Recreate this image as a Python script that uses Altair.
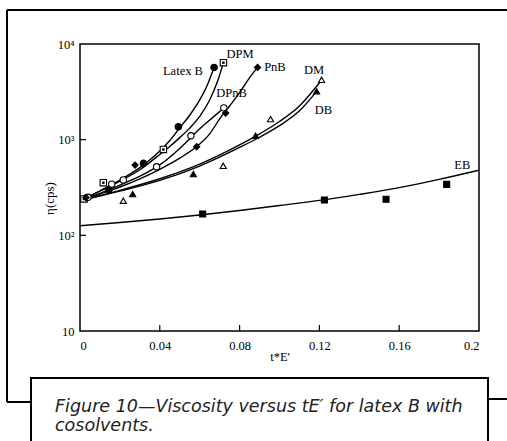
import altair as alt
import pandas as pd

# ---------------- data ----------------
x_ticks = [0, 0.04, 0.08, 0.12, 0.16, 0.2]
y_ticks = [10, 100, 1000, 10000]
inner_x_ticks = [0.04, 0.08, 0.12, 0.16]
inner_y_ticks = [100, 1000]

# fitted curves (t*E', eta in cps)
latexb_curve_x = [0, 0.01, 0.02, 0.03, 0.04, 0.045, 0.05, 0.055, 0.06, 0.064, 0.0672]
latexb_curve_eta = [230, 292, 378, 510, 760, 980, 1330, 1800, 2600, 3800, 5700]

dpm_curve_x = [0, 0.01, 0.02, 0.03, 0.04, 0.045, 0.05, 0.055, 0.06, 0.065, 0.069, 0.0719]
dpm_curve_eta = [230, 290, 368, 485, 700, 850, 1050, 1320, 1750, 2600, 4100, 6400]

dpnb_curve_x = [0, 0.01, 0.02, 0.03, 0.04, 0.05, 0.06, 0.066, 0.0722]
dpnb_curve_eta = [230, 275, 335, 415, 545, 810, 1300, 1670, 2150]

pnb_curve_x = [0, 0.01, 0.02, 0.03, 0.04, 0.05, 0.06, 0.065, 0.07, 0.075, 0.08, 0.0845, 0.089]
pnb_curve_eta = [230, 270, 320, 390, 490, 640, 900, 1150, 1650, 2250, 3100, 4300, 5700]

dm_curve_x = [0, 0.02, 0.04, 0.06, 0.08, 0.09, 0.1, 0.11, 0.1211]
dm_curve_eta = [230, 295, 390, 555, 880, 1150, 1550, 2250, 4200]

db_curve_x = [0, 0.02, 0.04, 0.06, 0.08, 0.09, 0.1, 0.11, 0.1186]
db_curve_eta = [230, 290, 375, 530, 830, 1060, 1400, 2000, 3200]

eb_curve_x = [0, 0.02, 0.04, 0.06, 0.08, 0.1, 0.12, 0.14, 0.16, 0.18, 0.2]
eb_curve_eta = [126, 136, 148, 163, 182, 205, 232, 268, 315, 385, 480]

# measured points
latexb_pts_x = [0.003, 0.0145, 0.0318, 0.0493, 0.0672]
latexb_pts_eta = [245, 300, 566, 1365, 5690]
dpm_pts_x = [0.002, 0.0117, 0.0418, 0.0719]
dpm_pts_eta = [240, 355, 790, 6380]
dpnb_pts_x = [0.004, 0.0159, 0.0217, 0.0384, 0.0556, 0.0721]
dpnb_pts_eta = [250, 343, 379, 521, 1099, 2150]
pnb_pts_x = [0.003, 0.0276, 0.0585, 0.073, 0.089]
pnb_pts_eta = [248, 543, 843, 1897, 5690]
dm_pts_x = [0.0217, 0.0718, 0.0955, 0.1211]
dm_pts_eta = [230, 533, 1641, 4227]
db_pts_x = [0.0264, 0.0568, 0.088, 0.1186]
db_pts_eta = [270, 437, 1099, 3200]
eb_pts_x = [0.0615, 0.1225, 0.1534, 0.1838]
eb_pts_eta = [167, 234, 238, 341]

series_names = ["Latex B", "DPM", "DPnB", "PnB", "DM", "DB", "EB"]
label_x = [0.0516, 0.0802, 0.076, 0.0977, 0.1173, 0.122, 0.1916]
label_eta = [5225, 7850, 3055, 5740, 5350, 2040, 543]

caption_lines = ["Figure 10\u2014Viscosity versus tE\u2032 for latex B with", "cosolvents."]

# ---------------- tables ----------------
curve_sets = [
    (latexb_curve_x, latexb_curve_eta), (dpm_curve_x, dpm_curve_eta),
    (dpnb_curve_x, dpnb_curve_eta), (pnb_curve_x, pnb_curve_eta),
    (dm_curve_x, dm_curve_eta), (db_curve_x, db_curve_eta),
    (eb_curve_x, eb_curve_eta),
]
point_sets = [
    (latexb_pts_x, latexb_pts_eta), (dpm_pts_x, dpm_pts_eta),
    (dpnb_pts_x, dpnb_pts_eta), (pnb_pts_x, pnb_pts_eta),
    (dm_pts_x, dm_pts_eta), (db_pts_x, db_pts_eta),
    (eb_pts_x, eb_pts_eta),
]
curves = pd.DataFrame([
    {"series": s, "x": x, "eta": e}
    for s, (xs, es) in zip(series_names, curve_sets) for x, e in zip(xs, es)
])
points = pd.DataFrame([
    {"series": s, "x": x, "eta": e}
    for s, (xs, es) in zip(series_names, point_sets) for x, e in zip(xs, es)
])
labels = pd.DataFrame({"name": series_names, "x": label_x, "eta": label_eta})

W, H = 399, 287
serif = "Liberation Serif"

xscale = alt.Scale(domain=[0, 0.2], nice=False, zero=False)
yscale = alt.Scale(type="log", domain=[10, 10000], nice=False)

X = alt.X("x:Q", scale=xscale, axis=alt.Axis(
    values=x_ticks, labelExpr="datum.value == 0 ? '0' : format(datum.value, '.2~f')",
    tickSize=0, grid=False, domain=False, labelFont=serif, labelFontSize=12.5,
    labelColor="black", labelPadding=8, title="t*E'", titleFont=serif,
    titleFontSize=12.5, titleFontWeight="normal", titleColor="black",
    titleY=25, titleBaseline="middle"))
Y = alt.Y("eta:Q", scale=yscale, axis=alt.Axis(
    values=y_ticks,
    labelExpr="datum.value == 10 ? '10' : datum.value == 100 ? '10\u00b2' : datum.value == 1000 ? '10\u00b3' : '10\u2074'",
    tickSize=0, grid=False, domain=False, labelFont=serif, labelFontSize=12.5,
    labelColor="black", labelPadding=6, title="\u03b7(cps)", titleFont=serif,
    titleFontSize=13, titleFontWeight="normal", titleColor="black",
    titleX=-31, titleY=154, titleAngle=270, titleAlign="center",
    titleBaseline="middle"))

lines = alt.Chart(curves).mark_line(
    color="black", strokeWidth=1.4, interpolate="monotone", clip=True
).encode(x=X, y=Y, detail="series:N", order="x:Q")

pts = alt.Chart(points).mark_point(filled=True, stroke="black", strokeWidth=1.1, opacity=1).encode(
    x=alt.X("x:Q", scale=xscale),
    y=alt.Y("eta:Q", scale=yscale),
    shape=alt.Shape("series:N", legend=None, scale=alt.Scale(
        domain=series_names,
        range=["circle", "square", "circle", "diamond", "triangle-up", "triangle-up", "square"])),
    fill=alt.Fill("series:N", legend=None, scale=alt.Scale(
        domain=series_names,
        range=["black", "white", "white", "black", "white", "black", "black"])),
    size=alt.Size("series:N", legend=None, scale=alt.Scale(
        domain=series_names, range=[42, 36, 38, 42, 34, 34, 30])),
)
dpm_dots = alt.Chart(points).transform_filter(alt.datum.series == "DPM").mark_point(
    shape="square", filled=True, color="black", size=6, opacity=1
).encode(x=alt.X("x:Q", scale=xscale), y=alt.Y("eta:Q", scale=yscale))

name_text = alt.Chart(labels).mark_text(
    font=serif, fontSize=12.5, color="black", align="center", baseline="middle"
).encode(x=alt.X("x:Q", scale=xscale), y=alt.Y("eta:Q", scale=yscale), text="name:N")

tx = pd.DataFrame({"x": inner_x_ticks})
x_tick_rules = alt.Chart(tx).mark_rule(color="black", strokeWidth=1.2).encode(
    x=alt.X("x:Q", scale=xscale), y=alt.value(H), y2=alt.value(H - 6))
ty = pd.DataFrame({"eta": inner_y_ticks})
y_tick_rules = alt.Chart(ty).mark_rule(color="black", strokeWidth=1.2).encode(
    y=alt.Y("eta:Q", scale=yscale), x=alt.value(0), x2=alt.value(6))

# decorative page frame and caption box
one = pd.DataFrame({"a": [0]})
fw = 2
frame_top = alt.Chart(one).mark_rule(color="black", strokeWidth=fw).encode(
    x=alt.value(-73), x2=alt.value(427), y=alt.value(-34))
frame_left = alt.Chart(one).mark_rule(color="black", strokeWidth=fw).encode(
    x=alt.value(-73), y=alt.value(-34), y2=alt.value(358))
frame_hook = alt.Chart(one).mark_rule(color="black", strokeWidth=fw).encode(
    x=alt.value(-73), x2=alt.value(-49), y=alt.value(358))
frame_stub = alt.Chart(one).mark_rule(color="black", strokeWidth=fw).encode(
    x=alt.value(408), x2=alt.value(427), y=alt.value(355))
cap_box = alt.Chart(one).mark_rect(fill=None, stroke="black", strokeWidth=fw).encode(
    x=alt.value(-49), x2=alt.value(408), y=alt.value(334), y2=alt.value(420))
cap_df = pd.DataFrame({"t": caption_lines, "yy": [368, 387]})
cap_text = alt.Chart(cap_df).mark_text(
    font="DejaVu Sans", fontStyle="italic", fontSize=17.5, color="#222222",
    align="left", baseline="alphabetic"
).encode(x=alt.value(-25), y=alt.Y("yy:Q", scale=None), text="t:N")

chart = alt.layer(
    lines, pts, dpm_dots, name_text, x_tick_rules, y_tick_rules,
    frame_top, frame_left, frame_hook, frame_stub, cap_box, cap_text
).properties(
    width=W, height=H,
    autosize=alt.AutoSizeParams(type="none"),
    padding={"left": 80, "top": 44, "right": 28, "bottom": 110},
    background="white",
).configure_view(stroke="black", strokeWidth=1.5)

chart.save("out.html", embed_options={"renderer": "svg", "actions": False})
